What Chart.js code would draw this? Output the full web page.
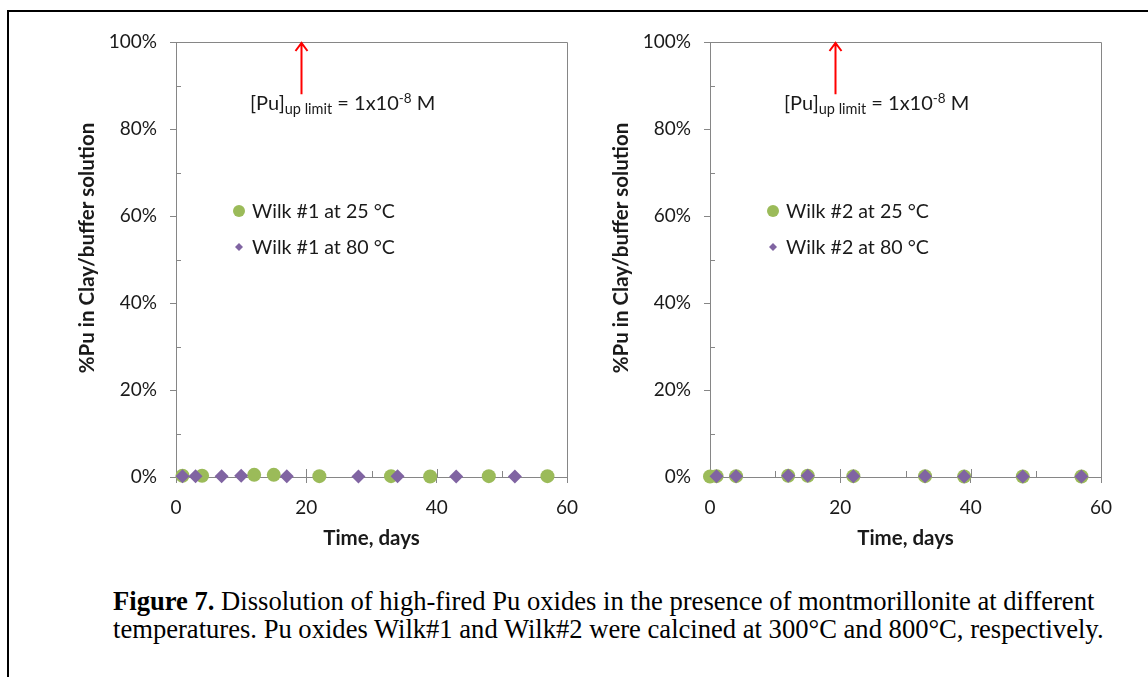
<!DOCTYPE html>
<html><head><meta charset="utf-8">
<script src="https://cdn.jsdelivr.net/npm/chart.js@4.4.0/dist/chart.umd.min.js"></script>
<style>
html,body{margin:0;padding:0;background:#fff;width:1148px;height:677px;overflow:hidden;position:relative;}
.frame{position:absolute;left:7px;top:10px;width:1200px;height:700px;border-left:2px solid #000;border-top:2px solid #000;}
.cv{position:absolute;top:0;width:600px;height:560px;}
.caption{position:absolute;left:113px;font-family:"Liberation Serif","Times New Roman",serif;font-size:26.6px;color:#000;white-space:nowrap;line-height:28px;}
</style></head><body>
<div class="frame"></div>
<div class="cv" style="left:0"><canvas id="c1" width="600" height="560"></canvas></div>
<div class="cv" style="left:534px"><canvas id="c2" width="600" height="560"></canvas></div>
<div class="caption" style="top:587px"><b>Figure 7.</b> Dissolution of high-fired Pu oxides in the presence of montmorillonite at different</div>
<div class="caption" style="top:615px">temperatures. Pu oxides Wilk#1 and Wilk#2 were calcined at 300°C and 800°C, respectively.</div>
<script>
// ---- data ----
const xTicks = [0, 20, 40, 60];
const yTicks = [0, 20, 40, 60, 80, 100];
const xMinor = [10, 30, 50];
const yMinor = [10, 30, 50, 70, 90];

const wilk1Days25 = [1, 4, 12, 15, 22, 33, 39, 48, 57];
const wilk1Pu25   = [0.3, 0.3, 0.5, 0.5, 0.2, 0.2, 0.1, 0.2, 0.2];
const wilk1Days80 = [1, 3, 7, 10, 17, 28, 34, 43, 52];
const wilk1Pu80   = [0.2, 0.2, 0.2, 0.3, 0.2, 0.1, 0.2, 0.1, 0.1];

const wilk2Days25 = [0, 1, 4, 12, 15, 22, 33, 39, 48, 57];
const wilk2Pu25   = [0.1, 0.2, 0.2, 0.3, 0.3, 0.2, 0.2, 0.1, 0.1, 0.1];
const wilk2Days80 = [1, 4, 12, 15, 22, 33, 39, 48, 57];
const wilk2Pu80   = [0.2, 0.2, 0.3, 0.3, 0.2, 0.2, 0.1, 0.1, 0.1];

const limitDay = 19.2;       // position of the red arrow (days)
const arrowBase = 88;        // arrow starts at this %
const arrowTip = 100;        // arrow points to the top (%)

const GREEN = '#9BBB59', PURPLE = '#8064A2', AXIS = '#868686', TXT = '#1a1a1a';
const FONT = 'Lato, "Open Sans", sans-serif';

function pts(xs, ys) { return xs.map((v, i) => ({x: v, y: ys[i]})); }

const extras = {
  id: 'extras',
  beforeDatasetsDraw(chart) {
    const {ctx, chartArea: a, scales: {x, y}} = chart;
    const r = v => Math.round(v) + 0.5;
    ctx.save();
    ctx.strokeStyle = AXIS; ctx.lineWidth = 1;
    ctx.beginPath();
    ctx.moveTo(r(a.left), r(a.top)); ctx.lineTo(r(a.right), r(a.top)); ctx.lineTo(r(a.right), r(a.bottom));
    xTicks.forEach(v => { const px = r(x.getPixelForValue(v)); ctx.moveTo(px, a.bottom); ctx.lineTo(px, a.bottom - 8); });
    xMinor.forEach(v => { const px = r(x.getPixelForValue(v)); ctx.moveTo(px, a.bottom); ctx.lineTo(px, a.bottom - 6); });
    yMinor.forEach(v => { const py = r(y.getPixelForValue(v)); ctx.moveTo(a.left, py); ctx.lineTo(a.left + 5, py); });
    ctx.stroke();
    ctx.restore();
  },
  afterDraw(chart, args, o) {
    const {ctx, chartArea: a, scales: {x, y}} = chart;
    ctx.save();
    // y title
    ctx.fillStyle = TXT;
    ctx.font = 'bold 20.5px ' + FONT;
    ctx.textAlign = 'center'; ctx.textBaseline = 'middle';
    ctx.translate(o.yTitleX, o.yTitleY); ctx.rotate(-Math.PI / 2);
    ctx.fillText(o.yTitle, 0, 0);
    ctx.setTransform(1, 0, 0, 1, 0, 0);
    // legend
    ctx.font = '19.6px ' + FONT; ctx.textAlign = 'left'; ctx.textBaseline = 'middle';
    const lx = a.left + 63;
    chart.data.datasets.forEach((ds, i) => {
      const ly = a.top + 169 + i * 36;
      ctx.fillStyle = ds.backgroundColor;
      ctx.beginPath();
      if (ds.pointStyle === 'rectRot') {
        const s = 4;
        ctx.moveTo(lx, ly - s); ctx.lineTo(lx + s, ly); ctx.lineTo(lx, ly + s); ctx.lineTo(lx - s, ly);
      } else {
        ctx.arc(lx, ly, 6, 0, Math.PI * 2);
      }
      ctx.closePath(); ctx.fill();
      ctx.fillStyle = TXT;
      ctx.fillText(ds.label, lx + 13, ly + 1);
    });
    // arrow
    const ax = Math.round(x.getPixelForValue(limitDay)) + 0.5;
    const y0 = y.getPixelForValue(arrowBase), y1 = y.getPixelForValue(arrowTip) + 1;
    ctx.strokeStyle = '#FF0000'; ctx.lineWidth = 2;
    ctx.beginPath();
    ctx.moveTo(ax, y0); ctx.lineTo(ax, y1);
    ctx.moveTo(ax - 6, y1 + 8); ctx.lineTo(ax, y1); ctx.lineTo(ax + 6, y1 + 8);
    ctx.stroke();
    // annotation text
    let tx = a.left + 74; const base = a.top + 68;
    ctx.fillStyle = TXT; ctx.textBaseline = 'alphabetic';
    const part = (t, size, dy) => { ctx.font = size + 'px ' + FONT; ctx.fillText(t, tx, base + dy); tx += ctx.measureText(t).width; };
    part('[Pu]', 20, 0); part('up limit', 14.5, 4); part(' = 1x10', 20, 0); part('-8', 13.5, -7); part(' M', 20, 0);
    ctx.restore();
  }
};

function makeChart(id, d25, d80, lab25, lab80) {
  new Chart(document.getElementById(id), {
    type: 'scatter',
    data: {datasets: [
      {label: lab25, data: d25, pointStyle: 'circle', pointRadius: 7, pointHoverRadius: 7, clip: false,
       backgroundColor: GREEN, borderColor: GREEN, borderWidth: 0, order: 2},
      {label: lab80, data: d80, pointStyle: 'rectRot', pointRadius: 7, pointHoverRadius: 7, clip: false,
       backgroundColor: PURPLE, borderColor: PURPLE, borderWidth: 0, order: 1}
    ]},
    options: {
      responsive: false, animation: false,
      layout: {padding: {top: 42, right: 33, bottom: 0, left: 0}},
      plugins: {legend: {display: false}, tooltip: {enabled: false},
        extras: {yTitle: '%Pu in Clay/buffer solution', yTitleX: 87, yTitleY: 248}},
      scales: {
        x: {type: 'linear', min: 0, max: 60,
            afterFit: s => { s.height = 83; },
            afterBuildTicks: s => { s.ticks = xTicks.map(v => ({value: v})); },
            border: {color: AXIS, width: 1},
            grid: {drawOnChartArea: false, drawTicks: true, tickLength: 6, color: AXIS},
            ticks: {color: TXT, font: {family: FONT, size: 19}, padding: 13, maxRotation: 0},
            title: {display: true, text: 'Time, days', color: TXT, font: {family: FONT, size: 20.5, weight: 'bold'},
                    padding: {top: 0, bottom: 9}}},
        y: {type: 'linear', min: 0, max: 100,
            afterFit: s => { s.width = 176; },
            afterBuildTicks: s => { s.ticks = yTicks.map(v => ({value: v})); },
            border: {color: AXIS, width: 1},
            grid: {drawOnChartArea: false, drawTicks: true, tickLength: 6, color: AXIS},
            ticks: {color: TXT, font: {family: FONT, size: 19}, padding: 13, callback: v => v + '%'}}
      }
    },
    plugins: [extras]
  });
}

makeChart('c1', pts(wilk1Days25, wilk1Pu25), pts(wilk1Days80, wilk1Pu80), 'Wilk #1 at 25 °C', 'Wilk #1 at 80 °C');
makeChart('c2', pts(wilk2Days25, wilk2Pu25), pts(wilk2Days80, wilk2Pu80), 'Wilk #2 at 25 °C', 'Wilk #2 at 80 °C');
</script>
</body></html>
